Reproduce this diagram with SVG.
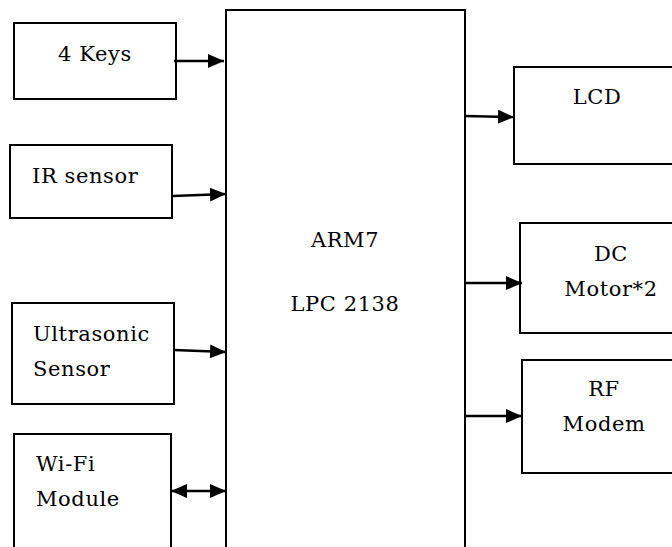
<svg xmlns="http://www.w3.org/2000/svg" width="672" height="547" viewBox="0 0 672 547">
<defs>
<marker id="ah" markerWidth="16" markerHeight="14" refX="16" refY="7" orient="auto" markerUnits="userSpaceOnUse"><path d="M0,0 L16,7 L0,14 Z" fill="#000"/></marker>
<marker id="as" markerWidth="16" markerHeight="14" refX="0" refY="7" orient="auto" markerUnits="userSpaceOnUse"><path d="M16,0 L0,7 L16,14 Z" fill="#000"/></marker>
</defs>
<style>
.b{fill:#fff;stroke:#000;stroke-width:2}
.t{font-family:"DejaVu Serif","Liberation Serif",serif;font-size:21px;letter-spacing:0.6px;fill:#000}
.c{stroke:#000;stroke-width:2.5;fill:none}
</style>
<rect width="672" height="547" fill="#fff"/>
<g id="arm7"><path class="b" d="M226,560 V10 H465 V560"/>
<text class="t" x="345" y="247" text-anchor="middle">ARM7</text>
<text class="t" x="345" y="311" text-anchor="middle">LPC 2138</text></g>
<g id="keys"><rect class="b" x="14" y="23" width="162" height="76"/><text class="t" x="95" y="61" text-anchor="middle">4 Keys</text></g>
<g id="ir"><rect class="b" x="10" y="145" width="162" height="73"/><text class="t" x="32" y="183">IR sensor</text></g>
<g id="ultra"><rect class="b" x="12" y="303" width="162" height="101"/><text class="t" x="33" y="341">Ultrasonic</text><text class="t" x="33" y="376">Sensor</text></g>
<g id="wifi"><path class="b" d="M14,560 V434 H171 V560"/><text class="t" x="36" y="471">Wi-Fi</text><text class="t" x="36" y="506">Module</text></g>
<g id="lcd"><path class="b" d="M680,67 H514 V164 H680"/><text class="t" x="597" y="104" text-anchor="middle">LCD</text></g>
<g id="dc"><path class="b" d="M680,223 H520 V333 H680"/><text class="t" x="611" y="261" text-anchor="middle">DC</text><text class="t" x="611" y="296" text-anchor="middle">Motor*2</text></g>
<g id="rf"><path class="b" d="M680,360 H522 V473 H680"/><text class="t" x="604" y="396" text-anchor="middle">RF</text><text class="t" x="604" y="431" text-anchor="middle">Modem</text></g>
<g id="connectors">
<line class="c" x1="174" y1="61" x2="224" y2="61" marker-end="url(#ah)"/>
<line class="c" x1="173" y1="196" x2="226" y2="194" marker-end="url(#ah)"/>
<line class="c" x1="174" y1="350" x2="226" y2="352" marker-end="url(#ah)"/>
<line class="c" x1="171" y1="491" x2="226" y2="491" marker-start="url(#as)" marker-end="url(#ah)"/>
<line class="c" x1="464" y1="116" x2="514" y2="117" marker-end="url(#ah)"/>
<line class="c" x1="464" y1="283" x2="522" y2="283" marker-end="url(#ah)"/>
<line class="c" x1="464" y1="416" x2="522" y2="416" marker-end="url(#ah)"/>
</g>
</svg>
